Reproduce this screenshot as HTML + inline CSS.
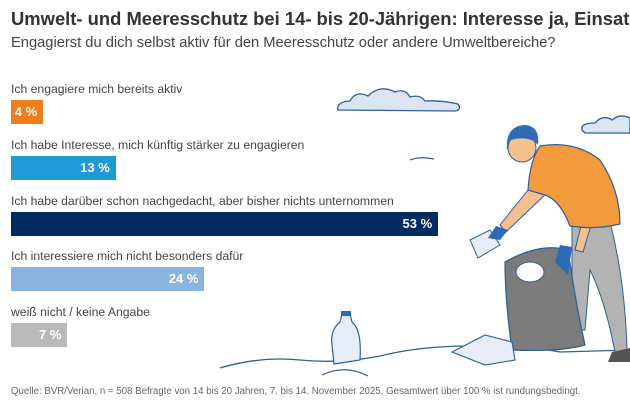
<!DOCTYPE html>
<html><head><meta charset="utf-8">
<style>
body{margin:0;width:630px;height:412px;background:#fff;overflow:hidden;font-family:"Liberation Sans",sans-serif;position:relative}
.t{position:absolute;white-space:nowrap}
</style></head><body>
<svg width="630" height="412" style="position:absolute;left:0;top:0">
<g fill="#dbe5f2" stroke="#2d5f9a" stroke-width="1.3">
<path d="M338 110 Q336 102 350 101 Q356 90 368 96 Q380 84 395 92 Q405 88 410 97 Q420 94 425 101 Q440 100 458 104 Q462 110 455 111 Z"/>
<path d="M582 130 Q580 123 595 123 Q603 114 612 120 Q620 113 630 118 L630 133 L585 133 Z"/>
</g>
<path d="M410 160 Q420 156 434 159" stroke="#2d5f9a" stroke-width="1.3" fill="none"/>
<path d="M220 368 Q260 356 300 360 Q340 364 380 356 Q420 346 470 346 Q520 344 560 352 L630 350" stroke="#2d5f9a" stroke-width="1.3" fill="none"/>
<path d="M332 345 Q330 330 340 322 L342 314 L350 314 L352 322 Q362 330 360 360 L334 364 Z" fill="#e6edf7" stroke="#2d5f9a" stroke-width="1.2"/>
<rect x="341" y="311" width="10" height="5" fill="#2d6bb5"/>
<path d="M322 375 Q345 364 368 376" stroke="#2d5f9a" stroke-width="1.2" fill="none"/>
<path d="M572 225 L610 222 Q625 280 627 350 L615 352 Q605 300 590 270 L585 330 L572 330 Z" fill="#b3b3b3" stroke="#2d5f9a" stroke-width="1"/>
<path d="M612 352 L630 348 L630 362 L608 362 Z" fill="#555"/>
<path d="M505 262 Q540 242 568 250 Q575 300 585 345 Q560 352 512 350 Q505 300 505 262 Z" fill="#7b7b7b" stroke="#2d5f9a" stroke-width="1.2"/>
<ellipse cx="530" cy="272" rx="14" ry="10" fill="#fff" stroke="#2d5f9a"/>
<path d="M452 352 L485 335 L512 342 L515 360 L485 365 Z" fill="#e6edf7" stroke="#2d5f9a" stroke-width="1.1"/>
<path d="M540 175 L500 225 L506 232 L550 190 Z" fill="#f4c08e" stroke="#2d5f9a" stroke-width="1"/>
<path d="M590 190 L575 250 L583 252 L600 195 Z" fill="#f4c08e" stroke="#2d5f9a" stroke-width="1"/>
<path d="M540 146 Q575 140 600 160 Q620 190 620 224 Q595 230 570 226 Q560 200 545 195 L528 190 Q530 160 540 146 Z" fill="#f39a3c" stroke="#2d5f9a" stroke-width="1.2"/>
<circle cx="522" cy="148" r="14" fill="#f4c08e" stroke="#2d5f9a"/>
<path d="M507 150 Q505 126 525 125 Q540 126 538 145 Q530 135 510 140 Z" fill="#2d6bb5"/>
<path d="M470 240 L490 230 L500 245 L478 258 Z" fill="#e6edf7" stroke="#2d5f9a"/>
<path d="M496 226 L508 230 L500 240 L488 238 Z" fill="#2d6bb5"/>
<path d="M560 245 L572 247 L568 275 L555 262 Z" fill="#2d6bb5"/>
</svg>
<div class="t" style="left:11px;top:8px;font-size:18.4px;font-weight:bold;color:#333">Umwelt- und Meeresschutz bei 14- bis 20-Jährigen: Interesse ja, Einsatz</div>
<div class="t" style="left:11px;top:35px;font-size:14.7px;color:#444">Engagierst du dich selbst aktiv für den Meeresschutz oder andere Umweltbereiche?</div>
<div id="bars"></div>
<div class="t" style="left:11px;top:386px;font-size:9.7px;color:#666">Quelle: BVR/Verian, n = 508 Befragte von 14 bis 20 Jahren, 7. bis 14. November 2025, Gesamtwert über 100 % ist rundungsbedingt.</div>
<script>
const categories=["Ich engagiere mich bereits aktiv","Ich habe Interesse, mich künftig stärker zu engagieren","Ich habe darüber schon nachgedacht, aber bisher nichts unternommen","Ich interessiere mich nicht besonders dafür","weiß nicht / keine Angabe"];
const values=[4,13,53,24,7];
const colors=["#f07d1e","#1e9ad6","#002b61","#8ab4e0","#b9b9b9"];
const x0=11, scale=8.06, rowTop=82, rowStep=55.8;
const root=document.getElementById('bars');
values.forEach((v,i)=>{
  const y=rowTop+i*rowStep;
  const l=document.createElement('div');
  l.className='t';
  
  
  l.style.cssText=`left:${x0}px;top:${y}px;font-size:12.2px;color:#444`;
  l.textContent=categories[i];
  root.appendChild(l);
  const b=document.createElement('div');
  b.className='t';
  
  
  b.style.cssText=`left:${x0}px;top:${y+18}px;height:24px;width:${v*scale}px;background:${colors[i]};color:#fff;font-weight:bold;font-size:13px;line-height:24px;text-align:right;box-sizing:border-box;padding-right:6px`;
  b.textContent=v+' %';
  root.appendChild(b);
});
</script>
</body></html>
